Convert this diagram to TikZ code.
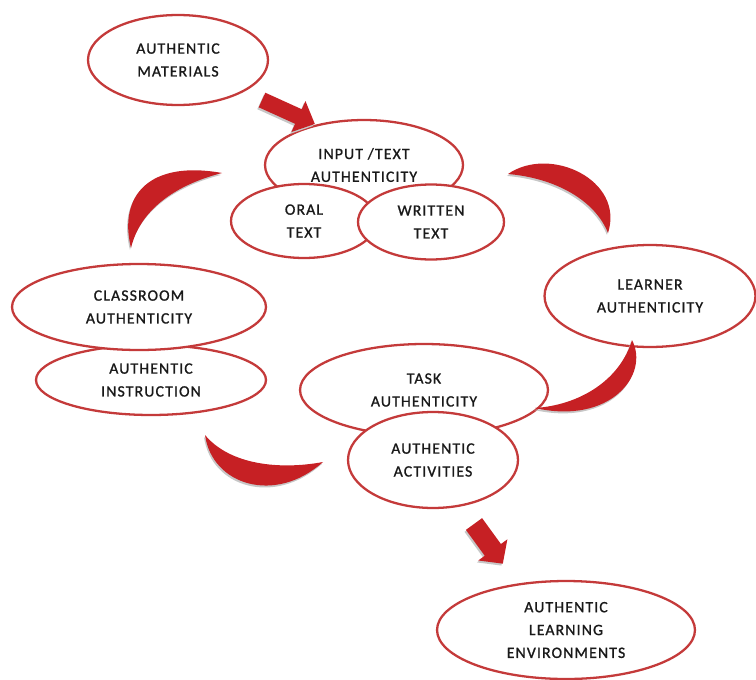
\documentclass[tikz,border=0pt]{standalone}
\usepackage{fontspec}
\newfontfamily\diagfont[LetterSpace=7, FakeBold=1]{Carlito}
\usetikzlibrary{shapes.geometric}
\definecolor{ringred}{RGB}{196,58,58}
\definecolor{arrowred}{RGB}{198,32,36}
\definecolor{textgray}{RGB}{25,25,25}

\begin{document}
\begin{tikzpicture}[
    x=0.02cm, y=-0.02cm,
    bubble/.style={
        ellipse,
        draw=ringred,
        line width=1.3pt,
        fill=white,
        inner sep=0pt,
        align=center,
        text=textgray,
        font=\diagfont\fontsize{9}{13}\selectfont
    },
    crescent/.style={ % red curved arrow
        fill=arrowred,
        preaction={fill=black!22, transform canvas={shift={(-0.6pt,-1.1pt)}}}
    },
    blockarrow/.style={
        fill=arrowred,
        preaction={fill=black!22, transform canvas={shift={(-0.8pt,-1.1pt)}}}
    }
]
    \useasboundingbox (0,0) rectangle (756,679);

    % top
    \node[bubble, minimum width=3.6cm, minimum height=1.8cm] (materials) at (178,60) {AUTHENTIC\\MATERIALS};

    % input / text
    \node[bubble, minimum width=3.96cm, minimum height=1.8cm] (input) at (364,165) {INPUT /TEXT\\AUTHENTICITY};
    \node[bubble, minimum width=2.92cm, minimum height=1.48cm] (oral) at (304,221) {ORAL\\TEXT};
    \node[bubble, minimum width=2.92cm, minimum height=1.5cm] (written) at (431,222) {WRITTEN\\TEXT};

    % learner
    \node[bubble, minimum width=4.22cm, minimum height=2.04cm] (learner) at (650,296) {LEARNER\\AUTHENTICITY};

    % classroom
    \node[bubble, minimum width=4.6cm, minimum height=1.4cm] (instruction) at (151,380) {AUTHENTIC\\INSTRUCTION};
    \node[bubble, minimum width=5.08cm, minimum height=1.72cm] (classroom) at (139,307) {CLASSROOM\\AUTHENTICITY};

    % task
    \node[bubble, minimum width=4.96cm, minimum height=1.84cm] (task) at (424,390) {TASK\\AUTHENTICITY};
    \node[bubble, minimum width=3.4cm, minimum height=1.92cm] (activities) at (433,460) {AUTHENTIC\\ACTIVITIES};

    % bottom
    \node[bubble, minimum width=5.16cm, minimum height=1.96cm] (environments) at (566,630) {AUTHENTIC\\LEARNING\\ENVIRONMENTS};

    % curved arrows
    \fill[crescent] (131,248) .. controls (118,195) and (150,160) .. (222,173)
        .. controls (175,185) and (140,210) .. cycle;
    \fill[crescent] (508,174) .. controls (550,145) and (625,180) .. (608,233)
        .. controls (595,200) and (555,178) .. cycle;
    \fill[crescent] (632,340) .. controls (650,375) and (610,425) .. (535,408)
        .. controls (580,405) and (620,380) .. cycle;
    \fill[crescent] (205,435) .. controls (212,485) and (275,505) .. (323,462)
        .. controls (280,470) and (230,465) .. cycle;

    % straight arrows
    \begin{scope}[shift={(262,100)}, rotate=-24.4]
        \fill[blockarrow] (0,-8) -- (40,-8) -- (40,-17) -- (58,0) -- (40,17) -- (40,8) -- (0,8) -- cycle;
    \end{scope}
    \begin{scope}[shift={(474,524)}, rotate=-54]
        \fill[blockarrow] (0,-10) -- (32,-10) -- (32,-18) -- (49,0) -- (32,18) -- (32,10) -- (0,10) -- cycle;
    \end{scope}

\end{tikzpicture}
\end{document}
